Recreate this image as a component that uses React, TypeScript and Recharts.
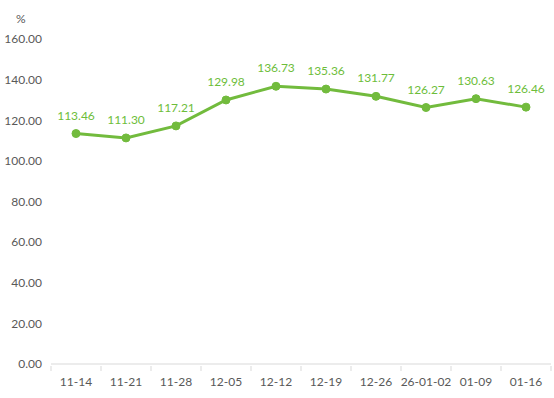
import { LineChart, Line, XAxis, YAxis, LabelList } from "recharts";

const categories = ["11-14", "11-21", "11-28", "12-05", "12-12", "12-19", "12-26", "26-01-02", "01-09", "01-16"];
const values = [113.46, 111.3, 117.21, 129.98, 136.73, 135.36, 131.77, 126.27, 130.63, 126.46];
const yTicks = [0, 20, 40, 60, 80, 100, 120, 140, 160];

const data = categories.map((date, i) => ({ date, value: values[i] }));

const GREEN = "#72BB3D";
const LABEL_GREEN = "#6DBD3A";
const TEXT = "#595959";
const AXIS = "#D9D9D9";
const FONT = "Lato, 'Open Sans', sans-serif";

const W = 554;
const H = 398;
const MARGIN = { top: 39, right: 3, bottom: 0, left: 0 };
const Y_WIDTH = 51;
const X_HEIGHT = 34;
const BAND = (W - MARGIN.left - MARGIN.right - Y_WIDTH) / categories.length;

// ticks sit between categories, like the spreadsheet original
const XTick = (props: any) => {
  const { x, y, payload, index } = props;
  const last = index === categories.length - 1;
  return (
    <g>
      <line x1={x - BAND / 2} x2={x - BAND / 2} y1={y - 8} y2={y - 3} stroke={AXIS} />
      {last && <line x1={x + BAND / 2} x2={x + BAND / 2} y1={y - 8} y2={y - 3} stroke={AXIS} />}
      <text x={x} y={y + 12} textAnchor="middle" fill={TEXT} fontSize={12} fontFamily={FONT}>
        {payload.value}
      </text>
    </g>
  );
};

export default function App() {
  return (
    <div style={{ position: "absolute", left: 0, top: 0, width: W, height: H, background: "#fff" }}>
      <div style={{ position: "absolute", left: 16, top: 11, fontSize: 12, color: TEXT, fontFamily: FONT }}>%</div>
      <LineChart width={W} height={H} data={data} margin={MARGIN}>
        <XAxis
          dataKey="date"
          height={X_HEIGHT}
          padding={{ left: BAND / 2, right: BAND / 2 }}
          axisLine={{ stroke: AXIS }}
          tickLine={false}
          tick={<XTick />}
          interval={0}
          tickSize={8}
        />
        <YAxis
          width={Y_WIDTH}
          domain={[0, 160]}
          ticks={yTicks}
          axisLine={false}
          tickLine={false}
          tickSize={0}
          tickMargin={9}
          tickFormatter={(v: number) => v.toFixed(2)}
          tick={{ fill: TEXT, fontSize: 12, fontFamily: FONT }}
        />
        <Line
          type="linear"
          dataKey="value"
          stroke={GREEN}
          strokeWidth={3}
          dot={{ r: 4, fill: GREEN, stroke: GREEN, strokeWidth: 1 }}
          isAnimationActive={false}
        >
          <LabelList
            dataKey="value"
            position="top"
            offset={14}
            formatter={(v: number) => v.toFixed(2)}
            style={{ fill: LABEL_GREEN, fontSize: 12, fontFamily: FONT }}
          />
        </Line>
      </LineChart>
    </div>
  );
}
